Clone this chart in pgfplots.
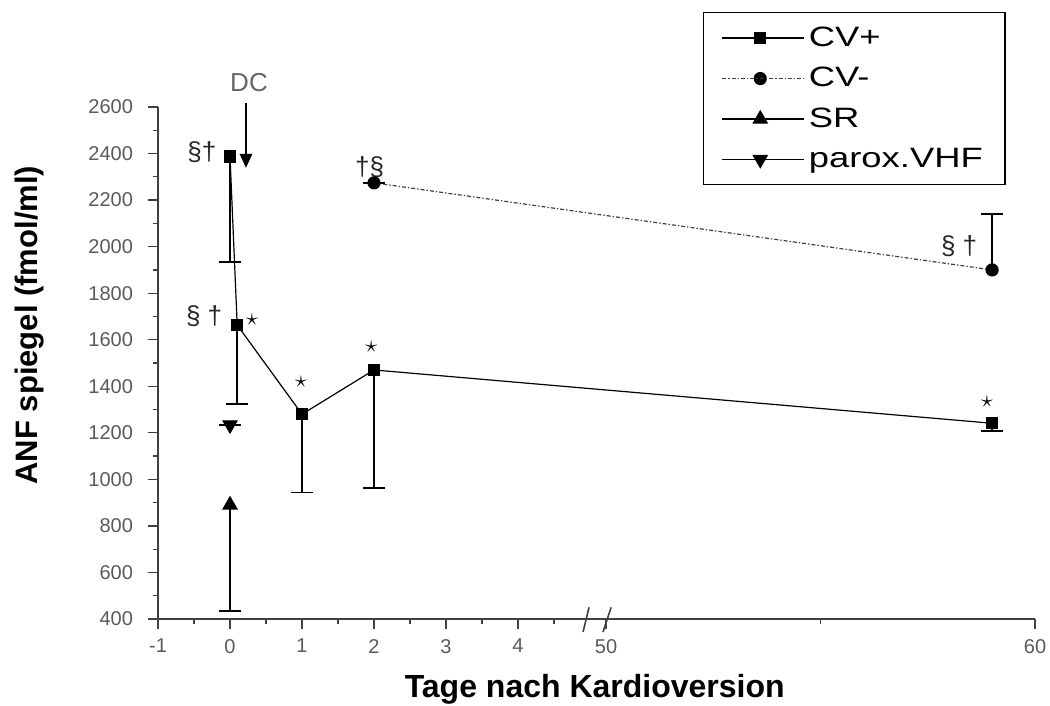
\documentclass[border=0pt]{standalone}
\usepackage{fontspec}
\setmainfont{Liberation Sans}
\newfontfamily\legfont[FakeStretch=1.3]{Liberation Sans}
\usepackage{pgfplots}
\pgfplotsset{compat=1.18}
\usetikzlibrary{arrows.meta}
\definecolor{axisgray}{HTML}{404040}
\definecolor{tickgray}{HTML}{5A5A5A}
\begin{document}
\begin{tikzpicture}
\useasboundingbox (-79pt,-43.5pt) rectangle (446pt,309.5pt);
\begin{axis}[
  at={(0,0)}, anchor=south west,
  scale only axis, width=438.5pt, height=256pt,
  x coord trafo/.code={\pgfmathparse{ifthenelse(#1>25,5.222+(#1-50)*0.5958,#1)}},
  x coord inv trafo/.code={\pgfmathparse{ifthenelse(#1>5.1,50+(#1-5.222)/0.5958,#1)}},
  xmin=-1, xmax=60, ymin=400, ymax=2600,
  axis x line=bottom, axis y line=left,
  axis line style={-, axisgray, line width=1pt},
  tick style={axisgray, line width=0.6pt},
  tick align=outside, major tick length=5pt, minor tick length=2.5pt,
  xtick={-1,0,1,2,3,4,50,60},
  xticklabels={-1,0,1,2,3,4,50,60},
  minor xtick={-0.5,0.5,1.5,2.5,3.5,4.5,55},
  ytick={400,600,...,2600},
  minor ytick={500,700,...,2500},
  /pgf/number format/assume math mode=true,
  /pgf/number format/1000 sep={},
  yticklabel style={font=\fontsize{10}{11}\selectfont, color=tickgray, xshift=-4pt},
  xticklabel style={font=\fontsize{10}{11}\selectfont, color=tickgray, yshift=-1.5pt},
  clip=false,
  xlabel={Tage nach Kardioversion},
  ylabel={ANF spiegel (fmol/ml)},
  xlabel style={font=\bfseries\fontsize{16}{18}\selectfont, at={(axis description cs:0.498,-0.137)}, anchor=center},
  ylabel style={font=\bfseries\fontsize{15.5}{18}\selectfont, at={(axis description cs:-0.146,0.574)}, anchor=center},
  legend style={at={(axis description cs:0.6214,1.1855)}, anchor=north west, draw=black, line width=0.7pt,
    font=\legfont\fontsize{14}{16}\selectfont, inner xsep=9pt, inner ysep=5pt, row sep=5pt},
  legend cell align=left,
  legend image code/.code={\draw[mark repeat=2,mark phase=2,#1] plot coordinates {(0pt,0pt) (19pt,0pt) (38pt,0pt)}; \path (0pt,0pt) -- (41pt,0pt);},
]
% CV+
\addplot[black, line width=0.6pt, mark=square*, mark size=2.75pt, mark options={solid},
  error bars/.cd, y dir=minus, y explicit,
  error bar style={black, line width=0.8pt},
  error mark options={black, line width=0.8pt, mark size=5.5pt, rotate=90}]
  coordinates {(0,2387) +- (0,452) (0.1,1663) +- (0,340) (1,1280) +- (0,337) (2,1470) +- (0,506) (59,1241) +- (0,32)};
% CV-
\addplot[black!75, line width=0.6pt, dash pattern=on 2pt off 1pt on 0.7pt off 1pt, mark=*, mark size=3pt, mark options={solid, black},
  error bars/.cd, y dir=plus, y explicit,
  error bar style={solid, black, line width=0.8pt},
  error mark options={solid, black, line width=0.8pt, mark size=5.5pt, rotate=90}]
  coordinates {(2,2274) +- (0,0) (59,1900) +- (0,239)};
% SR
\addplot[black, line width=0.6pt, mark=triangle*, mark size=4pt, mark options={solid},
  error bars/.cd, y dir=minus, y explicit,
  error bar style={black, line width=0.8pt},
  error mark options={black, line width=0.8pt, mark size=5.5pt, rotate=90}]
  coordinates {(0,890) +- (0,456)};
% parox. VHF
\addplot[black, line width=0.6pt, mark=triangle*, mark size=4pt, mark options={solid, rotate=180},
  error bars/.cd, y dir=minus, y explicit,
  error bar style={black, line width=0.8pt},
  error mark options={black, line width=0.8pt, mark size=5.5pt, rotate=90}]
  coordinates {(0,1234) +- (0,0)};
\legend{CV+, CV-, SR, parox.VHF}

% axis break
\draw[axisgray, line width=0.8pt] (axis cs:4.903,344) -- (axis cs:4.986,450);
\draw[axisgray, line width=0.8pt] (axis cs:49.93,344) -- (axis cs:50.12,450);

% DC arrow
\draw[black, line width=1.3pt, -{Triangle[width=6pt,length=7pt]}] (axis cs:0.222,2617) -- (axis cs:0.222,2338);
\node[color=black!60, font=\fontsize{13}{15}\selectfont] at (axis cs:0.264,2703) {DC};

% annotations
\node[color=black!85, font=\fontsize{13}{15}\selectfont] at (axis cs:-0.39,2405) {§†};
\node[color=black!85, font=\fontsize{13}{15}\selectfont] at (axis cs:1.94,2340) {†§};
\node[color=black!85, font=\fontsize{13}{15}\selectfont] at (axis cs:-0.36,1702) {§ †};
\node[color=black!85, font=\fontsize{13}{15}\selectfont] at (axis cs:58.23,2000) {§ †};
\node[font=\fontsize{12}{14}\selectfont] at (axis cs:0.306,1685) {$\star$};
\node[font=\fontsize{12}{14}\selectfont] at (axis cs:0.986,1418) {$\star$};
\node[font=\fontsize{12}{14}\selectfont] at (axis cs:1.96,1569) {$\star$};
\node[font=\fontsize{12}{14}\selectfont] at (axis cs:58.88,1332) {$\star$};
\end{axis}
\end{tikzpicture}
\end{document}
